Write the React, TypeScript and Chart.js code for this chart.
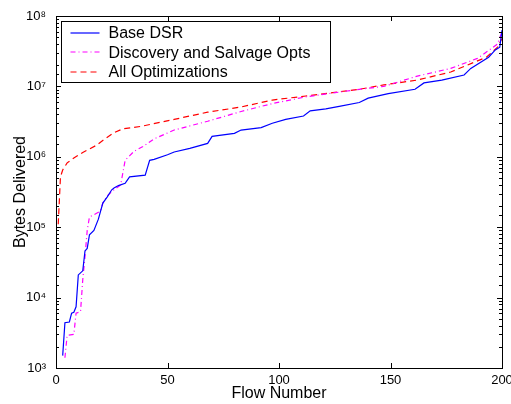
import React, { useEffect, useRef } from "react";
import { Chart, registerables } from "chart.js";

Chart.register(...registerables);

// Base DSR
const baseFlow = [3, 4, 6, 7, 8, 9, 10, 12, 13, 14, 15, 17, 19, 21, 23, 25, 26, 28, 31, 33, 40, 42, 44, 50, 53, 60, 68, 70, 80, 83, 92, 97, 103, 111, 114, 121, 127, 136, 140, 149, 161, 165, 173, 183, 186, 194, 197, 199, 200];
const baseBytes = [1.5e3, 4.4e3, 4.5e3, 6e3, 6.2e3, 7.4e3, 2.1e4, 2.4e4, 4.6e4, 5e4, 7.8e4, 9e4, 1.3e5, 2.2e5, 2.7e5, 3.4e5, 3.6e5, 3.9e5, 4.2e5, 5.2e5, 5.5e5, 8.9e5, 9.2e5, 1.07e6, 1.17e6, 1.32e6, 1.55e6, 1.95e6, 2.15e6, 2.4e6, 2.6e6, 3e6, 3.4e6, 3.8e6, 4.5e6, 4.8e6, 5.2e6, 5.9e6, 6.8e6, 7.9e6, 9.1e6, 1.12e7, 1.23e7, 1.45e7, 1.8e7, 2.6e7, 3.3e7, 3.6e7, 6.3e7];

// Discovery and Salvage Opts
const discFlow = [4, 5, 8, 9, 11, 12, 13, 14, 15, 17, 20, 21, 23, 26, 29, 31, 35, 39, 44, 53, 68, 83, 97, 112, 127, 136, 147, 162, 177, 189, 198, 200];
const discBytes = [1.4e3, 2.9e3, 3e3, 6e3, 6.3e3, 1.8e4, 3.8e4, 9e4, 1.4e5, 1.5e5, 1.7e5, 2.2e5, 2.8e5, 3.4e5, 4e5, 8.9e5, 1.2e6, 1.4e6, 1.8e6, 2.4e6, 3.2e6, 4.4e6, 5.7e6, 7.1e6, 8.3e6, 9.1e6, 1.0e7, 1.4e7, 1.8e7, 2.5e7, 4e7, 6e7];

// All Optimizations
const allFlow = [1, 2, 3, 5, 8, 12, 18, 22, 26, 30, 38, 53, 68, 83, 97, 112, 127, 136, 147, 162, 177, 193, 198, 200];
const allBytes = [1.1e5, 5.2e5, 6.5e5, 8.2e5, 9.6e5, 1.15e6, 1.45e6, 1.8e6, 2.2e6, 2.5e6, 2.7e6, 3.4e6, 4.3e6, 5.1e6, 6.4e6, 7.3e6, 8.4e6, 9.1e6, 1.05e7, 1.23e7, 1.6e7, 2.6e7, 3.6e7, 4.8e7];

const seriesNames = ["Base DSR", "Discovery and Salvage Opts", "All Optimizations"];
const xTickValues = [0, 50, 100, 150, 200];
const yExponents = [3, 4, 5, 6, 7, 8];

const SUP: Record<string, string> = { "0": "\u2070", "1": "\u00b9", "2": "\u00b2", "3": "\u00b3", "4": "\u2074", "5": "\u2075", "6": "\u2076", "7": "\u2077", "8": "\u2078", "9": "\u2079" };

const FONT = "'Liberation Sans', Arial, Helvetica, sans-serif";

function toPoints(xs: number[], ys: number[]) {
  return xs.map((x, i) => ({ x, y: ys[i] }));
}

const framePlugin = {
  id: "frameTicks",
  afterDraw(chart: any) {
    const { ctx, chartArea } = chart;
    const { left, right, top, bottom } = chartArea;
    const xs = chart.scales.x;
    const ys = chart.scales.y;
    ctx.save();
    ctx.strokeStyle = "#000";
    ctx.lineWidth = 1;
    ctx.setLineDash([]);
    ctx.beginPath();
    // y ticks (inward both sides)
    ys.ticks.forEach((t: any) => {
      const v = t.value;
      const lg = Math.log10(v);
      const major = Math.abs(lg - Math.round(lg)) < 1e-6;
      const len = major ? 5 : 3;
      const py = Math.round(ys.getPixelForValue(v)) + 0.5;
      ctx.moveTo(left, py);
      ctx.lineTo(left + len, py);
      ctx.moveTo(right, py);
      ctx.lineTo(right - len, py);
    });
    xTickValues.forEach((v) => {
      const px = Math.round(xs.getPixelForValue(v)) + 0.5;
      ctx.moveTo(px, bottom);
      ctx.lineTo(px, bottom - 5);
      ctx.moveTo(px, top);
      ctx.lineTo(px, top + 5);
    });
    ctx.stroke();
    ctx.strokeRect(Math.round(left) + 0.5, Math.round(top) + 0.5, Math.round(right - left), Math.round(bottom - top));

    // legend
    const bx = Math.round(left) + 5.5;
    const by = Math.round(top) + 5.5;
    const bw = 269;
    const bh = 61;
    ctx.fillStyle = "#fff";
    ctx.fillRect(bx, by, bw, bh);
    ctx.strokeStyle = "#000";
    ctx.strokeRect(bx, by, bw, bh);
    ctx.font = `16px ${FONT}`;
    ctx.textBaseline = "middle";
    ctx.textAlign = "left";
    chart.data.datasets.forEach((ds: any, i: number) => {
      const ry = by + 11.5 + i * 19.4;
      ctx.save();
      ctx.strokeStyle = ds.borderColor;
      ctx.lineWidth = ds.borderWidth;
      ctx.setLineDash(ds.borderDash || []);
      ctx.beginPath();
      ctx.moveTo(bx + 9, Math.round(ry));
      ctx.lineTo(bx + 38, Math.round(ry));
      ctx.stroke();
      ctx.restore();
      ctx.fillStyle = "#000";
      ctx.fillText(ds.label, bx + 47, ry + 1);
    });
    ctx.restore();
  },
};

export default function App() {
  const canvasRef = useRef<HTMLCanvasElement | null>(null);

  useEffect(() => {
    document.body.style.margin = "0";
    const canvas = canvasRef.current;
    if (!canvas) return;
    Chart.defaults.font.family = FONT;
    Chart.defaults.color = "#000";
    const chart = new Chart(canvas, {
      type: "line",
      data: {
        datasets: [
          {
            label: seriesNames[0],
            data: toPoints(baseFlow, baseBytes),
            borderColor: "#0000ff",
            borderWidth: 1.2,
            pointRadius: 0,
            tension: 0,
            fill: false,
          },
          {
            label: seriesNames[1],
            data: toPoints(discFlow, discBytes),
            borderColor: "#ff00ff",
            borderWidth: 1.2,
            borderDash: [5, 3, 1, 3],
            pointRadius: 0,
            tension: 0,
            fill: false,
          },
          {
            label: seriesNames[2],
            data: toPoints(allFlow, allBytes),
            borderColor: "#ff0000",
            borderWidth: 1.2,
            borderDash: [6, 4],
            pointRadius: 0,
            tension: 0,
            fill: false,
          },
        ],
      },
      options: {
        responsive: false,
        animation: false,
        devicePixelRatio: 1,
        layout: { padding: { top: 16, right: 9, left: 0, bottom: 0 } },
        plugins: {
          legend: { display: false },
          tooltip: { enabled: false },
        },
        scales: {
          x: {
            type: "linear",
            min: 0,
            max: 200,
            grid: { display: false },
            border: { display: false },
            afterBuildTicks: (scale: any) => {
              scale.ticks = xTickValues.map((v) => ({ value: v }));
            },
            ticks: {
              padding: -3,
              font: { size: 13, family: FONT },
              color: "#000",
              autoSkip: false,
              maxRotation: 0,
              callback: (v: any) => String(v),
            },
            title: {
              display: true,
              text: "Flow Number",
              font: { size: 16, family: FONT },
              color: "#000",
              padding: { top: 0, bottom: 1 },
            },
            afterFit: (scale: any) => {
              scale.height = 36;
              scale.paddingLeft = 0;
              scale.paddingRight = 0;
            },
          },
          y: {
            type: "logarithmic",
            min: 1e3,
            max: 1e8,
            grid: { display: false },
            border: { display: false },
            ticks: {
              padding: 2,
              font: { size: 13, family: FONT },
              color: "#000",
              autoSkip: false,
              callback: (v: any) => {
                const lg = Math.log10(Number(v));
                const r = Math.round(lg);
                if (Math.abs(lg - r) < 1e-6 && yExponents.includes(r)) {
                  return "10" + String(r).split("").map((c) => SUP[c]).join("");
                }
                return "";
              },
            },
            title: {
              display: true,
              text: "Bytes Delivered",
              font: { size: 16, family: FONT },
              color: "#000",
              padding: { top: 11, bottom: 0 },
            },
            afterFit: (scale: any) => {
              scale.width = 56;
              scale.paddingTop = 0;
              scale.paddingBottom = 0;
            },
          },
        },
      },
      plugins: [framePlugin],
    });
    return () => chart.destroy();
  }, []);

  return (
    <div style={{ width: 511, height: 404, background: "#fff" }}>
      <canvas ref={canvasRef} width={511} height={404} style={{ display: "block" }} />
    </div>
  );
}
